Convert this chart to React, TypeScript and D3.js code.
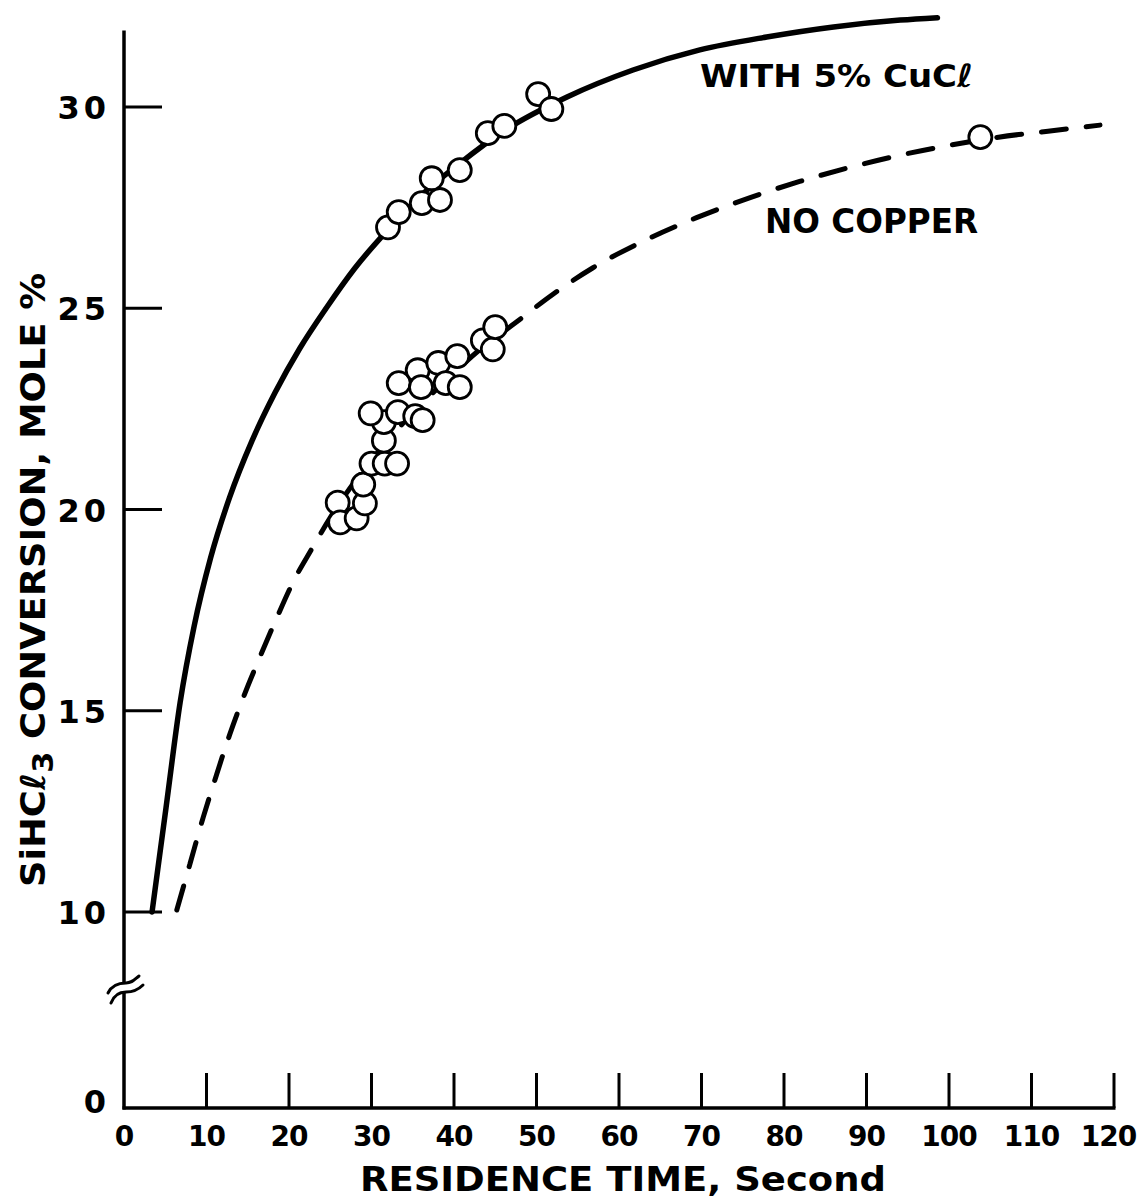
import React from "react";
import * as d3 from "d3";

// Axis ticks
const X_TICKS = [0, 10, 20, 30, 40, 50, 60, 70, 80, 90, 100, 110, 120];
const Y_TICK_LABELS = [0, 10, 15, 20, 25, 30];
const Y_TICK_MARKS = [10, 15, 20, 25, 30];
const Y_AXIS_TOP = 31.9;

// Smooth curve through the run with 5% CuCl (residence time s, conversion mole %)
const CUCL_CURVE_T = [3.4, 5.1, 6.8, 8.5, 10.5, 12.8, 15.5, 18.3, 21.3, 24.5, 28, 32, 36, 40.7, 46, 53.7, 61.7, 69.8, 77.9, 86, 94.1, 98.6];
const CUCL_CURVE_V = [10, 12.6, 15.2, 17.1, 18.8, 20.3, 21.7, 22.9, 24.0, 25.0, 26.0, 26.95, 27.8, 28.6, 29.4, 30.25, 30.92, 31.42, 31.74, 31.99, 32.16, 32.22];

// Dashed curve, no copper
const NOCU_CURVE_T = [6.4, 8.0, 9.6, 11.2, 12.8, 14.5, 16.5, 18.5, 20.5, 22.7, 25, 28, 31.5, 35, 39, 43, 47.2, 52, 56.8, 63.8, 69.4, 75.9, 81.9, 88, 94, 100.1, 106, 112, 118.3];
const NOCU_CURVE_V = [10.05, 11.2, 12.35, 13.4, 14.4, 15.35, 16.35, 17.3, 18.2, 19.0, 19.8, 20.7, 21.6, 22.4, 23.2, 23.95, 24.6, 25.35, 26.0, 26.75, 27.25, 27.75, 28.15, 28.5, 28.8, 29.05, 29.25, 29.4, 29.55];

// Measured points, with 5% CuCl
const CUCL_POINTS_T = [32.0, 33.3, 36.1, 38.3, 37.3, 40.7, 44.1, 46.1, 50.2, 51.8];
const CUCL_POINTS_V = [27.01, 27.39, 27.61, 27.69, 28.23, 28.43, 29.35, 29.53, 30.32, 29.95];

// Measured points, no copper
const NOCU_POINTS_T = [25.9, 26.2, 28.2, 29.2, 29.0, 30.0, 31.6, 33.1, 31.5, 31.5, 29.9, 33.2, 35.3, 36.2, 33.3, 35.6, 36.0, 38.1, 39.0, 40.7, 40.4, 43.5, 44.7, 45.0, 103.8];
const NOCU_POINTS_V = [20.17, 19.68, 19.78, 20.15, 20.62, 21.14, 21.14, 21.14, 21.71, 22.17, 22.39, 22.42, 22.32, 22.22, 23.14, 23.46, 23.04, 23.64, 23.14, 23.04, 23.81, 24.2, 23.98, 24.53, 29.25];

const W = 1141;
const H = 1199;
const FONT = "'DejaVu Sans', sans-serif";

const x = d3.scaleLinear().domain([0, 120]).range([124, 1114]);
// broken axis: 0 sits below the break, 10–30 is linear
const y = d3.scaleLinear().domain([0, 10, 30]).range([1108, 912, 107]);

const zip = (t: number[], v: number[]) => t.map((tt, i) => [tt, v[i]] as [number, number]);

const line = d3
  .line<[number, number]>()
  .x((d) => x(d[0]))
  .y((d) => y(d[1]))
  .curve(d3.curveMonotoneX);

export default function App() {
  const x0 = x(0);
  const yBase = y(0);
  const cuclPts = zip(CUCL_POINTS_T, CUCL_POINTS_V);
  const nocuPts = zip(NOCU_POINTS_T, NOCU_POINTS_V);
  const breakY = 984;
  // keep the last x label inside the page
  const xLabelPos = (t: number) => Math.min(x(t), W - 4 - String(t).length * 9.5);

  return (
    <svg
      width={W}
      height={H}
      viewBox={`0 0 ${W} ${H}`}
      style={{ position: "absolute", left: 0, top: 0, background: "#fff" }}
    >
      <rect x={0} y={0} width={W} height={H} fill="#fff" />

      {/* y axis, interrupted at the break */}
      <line x1={x0} x2={x0} y1={y(Y_AXIS_TOP)} y2={breakY} stroke="#000" strokeWidth={3.5} />
      <line x1={x0} x2={x0} y1={breakY + 8} y2={yBase + 1.5} stroke="#000" strokeWidth={3.5} />
      {/* break marks */}
      <path
        d={`M${x0 - 16},${breakY + 9} C${x0 - 12},${breakY + 1} ${x0 - 5},${breakY - 1} ${x0 + 2},${breakY - 1} C${x0 + 8},${breakY - 1} ${x0 + 10},${breakY - 4} ${x0 + 15},${breakY - 8}`}
        fill="none"
        stroke="#000"
        strokeWidth={3}
        strokeLinecap="round"
      />
      <path
        d={`M${x0 - 13},${breakY + 19} C${x0 - 10},${breakY + 11} ${x0 - 4},${breakY + 8} ${x0 + 2},${breakY + 8} C${x0 + 9},${breakY + 8} ${x0 + 14},${breakY + 6} ${x0 + 19},${breakY + 1}`}
        fill="none"
        stroke="#000"
        strokeWidth={3}
        strokeLinecap="round"
      />

      {/* x axis */}
      <line x1={x0 - 1.5} x2={x(120) + 1.5} y1={yBase} y2={yBase} stroke="#000" strokeWidth={3.5} />
      {X_TICKS.filter((t) => t > 0).map((t) => (
        <line key={`xt${t}`} x1={x(t)} x2={x(t)} y1={yBase} y2={yBase - 35} stroke="#000" strokeWidth={3} />
      ))}
      {X_TICKS.map((t) => (
        <text
          key={`xl${t}`}
          x={xLabelPos(t)}
          y={1146}
          textAnchor="middle"
          fontFamily={FONT}
          fontSize={28}
          fontWeight="bold"
          letterSpacing={-1}
        >
          {t}
        </text>
      ))}

      {/* y ticks and labels */}
      {Y_TICK_MARKS.map((v) => (
        <line key={`yt${v}`} x1={x0} x2={x0 + 38} y1={y(v)} y2={y(v)} stroke="#000" strokeWidth={3} />
      ))}
      {Y_TICK_LABELS.map((v) => (
        <text
          key={`yl${v}`}
          x={110}
          y={(v === 0 ? y(0) - 7 : y(v)) + 12}
          textAnchor="end"
          fontFamily={FONT}
          fontSize={32}
          fontWeight="bold"
          letterSpacing={4}
        >
          {v}
        </text>
      ))}

      {/* curves */}
      <path
        d={line(zip(CUCL_CURVE_T, CUCL_CURVE_V)) || ""}
        fill="none"
        stroke="#000"
        strokeWidth={5.5}
        strokeLinecap="round"
      />
      <path
        d={line(zip(NOCU_CURVE_T, NOCU_CURVE_V)) || ""}
        fill="none"
        stroke="#000"
        strokeWidth={5}
        strokeLinecap="round"
        strokeDasharray="25 20"
      />

      {/* data points */}
      {cuclPts.map((d, i) => (
        <circle key={`c${i}`} cx={x(d[0])} cy={y(d[1])} r={11.5} fill="#fff" stroke="#000" strokeWidth={2.8} />
      ))}
      {nocuPts.map((d, i) => (
        <circle key={`n${i}`} cx={x(d[0])} cy={y(d[1])} r={11.5} fill="#fff" stroke="#000" strokeWidth={2.8} />
      ))}

      {/* curve labels */}
      <text x={700} y={87} fontFamily={FONT} fontSize={32} fontWeight="bold" textLength={273} lengthAdjust="spacingAndGlyphs">
        WITH 5% CuCℓ
      </text>
      <text x={765} y={233} fontFamily={FONT} fontSize={33} fontWeight="bold" textLength={213} lengthAdjust="spacingAndGlyphs">
        NO COPPER
      </text>

      {/* axis titles */}
      <text
        x={360}
        y={1191}
        fontFamily={FONT}
        fontSize={34}
        fontWeight="bold"
        textLength={526}
        lengthAdjust="spacingAndGlyphs"
      >
        RESIDENCE TIME, Second
      </text>
      <text
        transform="translate(45,887) rotate(-90)"
        x={0}
        y={0}
        fontFamily={FONT}
        fontSize={34}
        fontWeight="bold"
        textLength={614}
        lengthAdjust="spacingAndGlyphs"
      >
        <tspan>SiHCℓ</tspan>
        <tspan dy={8} fontSize={28}>3</tspan>
        <tspan dy={-8}> CONVERSION, MOLE %</tspan>
      </text>
    </svg>
  );
}
